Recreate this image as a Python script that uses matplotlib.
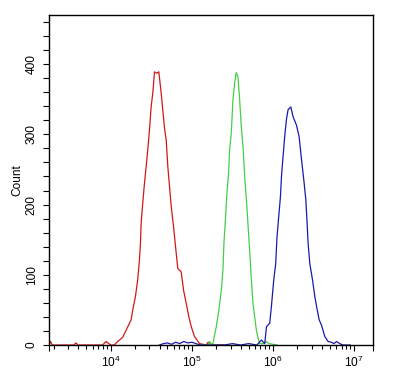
import numpy as np
import matplotlib
matplotlib.use("Agg")
import matplotlib.pyplot as plt
from matplotlib.ticker import LogLocator, MultipleLocator, NullFormatter

plt.rcParams['font.family'] = ['Liberation Sans', 'DejaVu Sans']
plt.rcParams['mathtext.default'] = 'regular'

# histogram outlines: log10(intensity), count
red_log = [3.24, 3.26, 3.28, 3.55, 3.57, 3.60, 3.90, 3.943, 4.00, 4.046, 4.086, 4.148,
           4.190, 4.252, 4.272, 4.305, 4.333, 4.354, 4.367, 4.375, 4.395, 4.416,
           4.437, 4.457, 4.478, 4.499, 4.519, 4.540, 4.568, 4.593, 4.622, 4.663,
           4.684, 4.704, 4.746, 4.774, 4.799, 4.827, 4.869, 4.898, 4.938, 4.963,
           4.993, 5.033, 5.095, 5.178, 5.20, 5.23, 5.26, 5.40]
red_cnt = [0, 5, 0, 0, 3, 0, 0, 5, 0, 0, 5, 11,
           21, 36, 50, 69, 93, 121, 145, 173, 202, 230,
           254, 278, 306, 340, 359, 389, 387, 389, 359, 309,
           292, 254, 197, 169, 140, 109, 104, 78, 55, 40,
           26, 12, 2, 0, 4, 2, 0, 0]

green_log = [5.10, 5.20, 5.22, 5.24, 5.259, 5.301, 5.333, 5.363, 5.383, 5.395, 5.416,
             5.432, 5.453, 5.465, 5.486, 5.506, 5.527, 5.547, 5.568, 5.589,
             5.609, 5.630, 5.651, 5.672, 5.691, 5.712, 5.733, 5.753, 5.774,
             5.795, 5.815, 5.836, 5.877, 5.919, 5.95, 6.000, 6.05]
green_cnt = [0, 0, 5, 0, 2, 26, 50, 78, 107, 145, 183,
             216, 245, 278, 302, 349, 373, 388, 382, 349,
             311, 283, 240, 207, 173, 135, 93, 59, 40,
             21, 10, 2, 2, 5, 2, 1, 0]

blue_log = [4.60, 4.65, 4.70, 4.75, 4.80, 4.85, 4.90, 4.95, 5.00, 5.05, 5.10,
            5.40, 5.50, 5.60, 5.70, 5.80, 5.857, 5.898, 5.919, 5.959, 5.980,
            6.009, 6.033, 6.049, 6.074, 6.091, 6.104, 6.123, 6.144, 6.165,
            6.185, 6.219, 6.247, 6.289, 6.321, 6.351, 6.379, 6.404, 6.420,
            6.432, 6.453, 6.486, 6.515, 6.536, 6.568, 6.598, 6.638, 6.679,
            6.72, 6.75, 6.783, 6.82, 6.864, 6.95]
blue_cnt = [0, 2, 3, 1, 4, 2, 5, 3, 4, 2, 0,
            0, 2, 0, 2, 0, 7, 2, 26, 31, 55,
            93, 116, 154, 188, 211, 240, 268, 297, 321,
            335, 339, 325, 313, 297, 264, 235, 207, 173,
            145, 116, 93, 69, 55, 36, 28, 12, 5,
            4, 2, 5, 2, 0, 0]

x_lo, x_hi = 10 ** 3.24, 10 ** 7.23
x_ticks = [x_lo, 1e4, 1e5, 1e6, 1e7, x_hi]
x_labels = ['', '$10^4$', '$10^5$', '$10^6$', '$10^7$', '']
y_ticks = [0, 100, 200, 300, 400]

fig = plt.figure(figsize=(3.95, 3.74), dpi=100)
ax = fig.add_axes([0.124, 0.0775, 0.82, 0.8825])

ax.plot(10 ** np.array(red_log), red_cnt, color='#d01818', lw=0.9)
ax.plot(10 ** np.array(green_log), green_cnt, color='#44d044', lw=0.9)
ax.plot(10 ** np.array(blue_log), blue_cnt, color='#1a1aa8', lw=0.9)

ax.set_xscale('log')
ax.set_xlim(x_lo, x_hi)
ax.set_ylim(0, 470)

ax.set_xticks(x_ticks)
ax.set_xticklabels(x_labels)
ax.xaxis.set_minor_locator(LogLocator(base=10, subs=np.arange(2, 10), numticks=20))
ax.xaxis.set_minor_formatter(NullFormatter())

ax.set_yticks(y_ticks)
ax.yaxis.set_minor_locator(MultipleLocator(20))
for lab in ax.get_yticklabels():
    lab.set_rotation(90)
    lab.set_va('center')

ax.tick_params(axis='both', which='major', direction='out', length=4.5, width=0.8,
               labelsize=8.6, pad=2.5)
ax.tick_params(axis='x', which='minor', direction='out', length=3, width=0.8)
ax.tick_params(axis='y', which='minor', direction='out', length=4, width=0.8)
ax.tick_params(axis='y', which='major', pad=3.5)

for s in ax.spines.values():
    s.set_linewidth(1.0)

ax.set_ylabel('Count', fontsize=8.6, labelpad=2)

fig.savefig('out.png', dpi=100)
